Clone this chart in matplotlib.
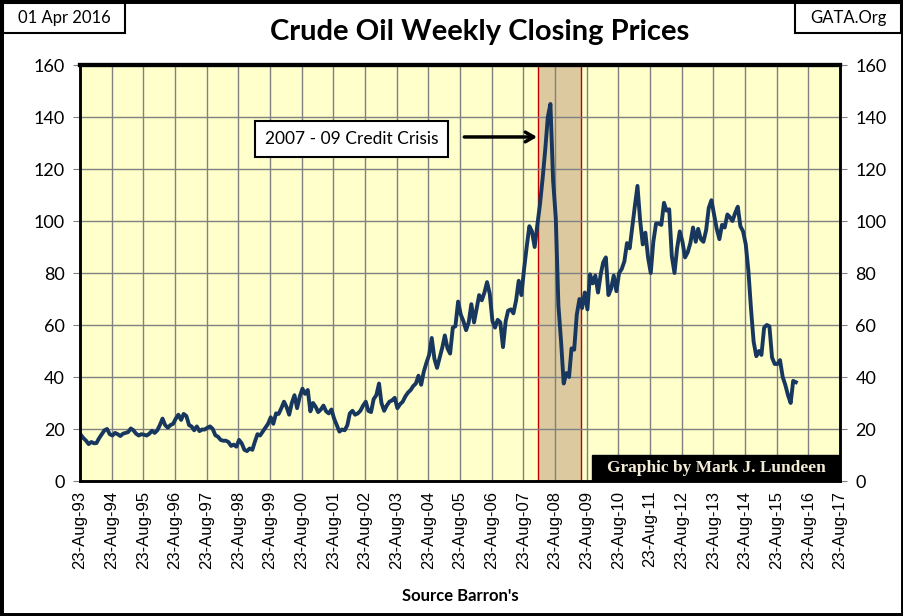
import pandas as pd
import matplotlib
matplotlib.use('Agg')
from matplotlib import pyplot as plt
import matplotlib.dates as mdates
from matplotlib.patches import Rectangle

# monthly readings of the weekly close, Aug 1993 .. Apr 2016
prices = [
    18.0, 17.8, 16.5, 15.5, 14.2,
    15.0, 14.5, 14.6, 16.5, 18.0, 19.5, 20.0, 18.0, 17.5, 18.5, 18.0, 17.3,
    18.2, 18.5, 18.8, 20.2, 19.5, 18.2, 17.5, 18.0, 17.8, 17.5, 18.2, 19.3,
    18.5, 19.5, 21.5, 24.0, 21.5, 20.5, 21.5, 22.0, 24.0, 25.5, 23.5, 25.8,
    25.0, 21.5, 21.0, 19.5, 21.0, 19.2, 19.8, 19.8, 20.5, 21.0, 20.0, 17.6,
    17.0, 15.8, 15.5, 15.5, 15.0, 13.5, 14.0, 13.2, 15.8, 14.5, 12.0, 11.5,
    12.5, 12.0, 15.0, 18.0, 17.5, 19.0, 20.5, 22.0, 24.5, 22.0, 26.0, 25.8,
    28.0, 30.5, 28.5, 25.5, 30.0, 33.0, 28.0, 32.5, 35.5, 33.5, 35.0, 26.8,
    30.0, 28.5, 26.5, 27.5, 29.0, 26.8, 26.0, 27.5, 24.0, 21.5, 19.0, 19.8,
    19.5, 21.5, 26.0, 27.0, 25.5, 26.0, 27.0, 29.0, 30.5, 27.0, 26.5, 31.5,
    33.0, 37.5, 30.0, 27.0, 29.0, 30.5, 31.0, 32.0, 28.0, 29.5, 30.5, 32.5,
    34.0, 35.0, 36.5, 37.5, 40.5, 37.0, 42.0, 45.5, 48.5, 55.0, 47.0, 43.5,
    47.5, 51.5, 56.0, 51.0, 49.0, 59.0, 59.5, 69.0, 64.0, 61.5, 58.0, 61.0,
    68.0, 61.0, 66.0, 71.5, 69.5, 72.5, 76.5, 72.0, 61.5, 59.0, 62.0, 61.0,
    51.5, 61.5, 65.5, 66.0, 64.5, 69.5, 77.0, 71.5, 81.5, 90.0, 98.0, 96.0,
    90.0, 98.5, 106.0, 116.0, 127.0, 140.0, 145.0, 115.5, 101.0, 67.5, 53.5, 37.5,
    41.5, 40.0, 51.0, 50.5, 64.0, 70.0, 66.5, 72.5, 66.0, 79.5, 76.0, 79.0,
    72.5, 79.5, 84.0, 86.0, 71.5, 74.0, 79.0, 73.0, 80.0, 81.5, 84.5, 91.5,
    89.5, 98.0, 105.5, 113.5, 100.5, 91.0, 95.5, 86.0, 80.0, 92.0, 99.0, 99.0,
    98.5, 107.0, 104.0, 104.5, 86.5, 80.0, 89.5, 96.0, 92.0, 86.0, 88.0, 91.5,
    97.5, 92.0, 97.0, 93.0, 92.0, 96.5, 105.0, 108.0, 102.5, 97.0, 93.0, 98.5,
    97.5, 102.5, 101.5, 100.0, 103.0, 105.5, 98.0, 96.0, 91.0, 81.0, 66.0, 53.5,
    48.0, 50.0, 48.5, 59.0, 60.0, 59.5, 47.5, 45.0, 45.0, 46.5, 40.0, 37.0,
    33.0, 30.0, 38.5, 38.0,
]
dates = pd.date_range(end='2016-04-01', periods=len(prices), freq='MS')

tick_dates = pd.date_range('1993-08-23', '2017-08-23', freq=pd.DateOffset(years=1))
y_ticks = [0, 20, 40, 60, 80, 100, 120, 140, 160]

crisis_start = pd.Timestamp('2008-02-05')
crisis_end = pd.Timestamp('2009-06-20')

title = "Crude Oil Weekly Closing Prices"
date_label = "01 Apr 2016"
site_label = "GATA.Org"
source_label = "Source Barron's"
crisis_label = "2007 - 09 Credit Crisis"
credit_label = "Graphic by Mark J. Lundeen"

line_color = '#17375E'
bg_color = '#FFFFCC'


def main():
    fig = plt.figure(figsize=(9.04, 6.16), dpi=100)
    fig.patch.set_facecolor('white')
    ax = fig.add_axes([80 / 904, 135 / 616, 760 / 904, 416 / 616])
    ax.set_facecolor(bg_color)

    ax.axvspan(crisis_start, crisis_end, facecolor='#DCC9A0', edgecolor='#C00000',
               linewidth=1, zorder=0.3)
    ax.plot(dates, prices, color=line_color, linewidth=2.8, zorder=3)

    ax.set_xlim(tick_dates[0], tick_dates[-1])
    ax.set_ylim(0, 160)
    ax.set_xticks(tick_dates)
    ax.xaxis.set_major_formatter(mdates.DateFormatter('%d-%b-%y'))
    ax.set_yticks(y_ticks)
    ax.set_axisbelow(True)
    ax.grid(True, color='#808080', linewidth=1)

    for lab in ax.get_xticklabels():
        lab.set_rotation(90)
        lab.set_fontfamily('Liberation Sans')
        lab.set_fontsize(12)
    ax.tick_params(axis='x', length=0, pad=7)
    ax.tick_params(axis='y', direction='out', length=5, color='#808080',
                   labelsize=13, pad=6)
    for lab in ax.get_yticklabels():
        lab.set_fontfamily('Lato')

    ax2 = ax.twinx()
    ax2.set_ylim(0, 160)
    ax2.set_yticks(y_ticks)
    ax2.tick_params(axis='y', direction='out', length=5, color='#808080',
                    labelsize=13, pad=6)
    for lab in ax2.get_yticklabels():
        lab.set_fontfamily('Lato')

    for a in (ax, ax2):
        for side in ['left', 'right', 'bottom']:
            a.spines[side].set_color('black')
            a.spines[side].set_linewidth(1.8)
        a.spines['top'].set_color('black')
        a.spines['top'].set_linewidth(3)

    # annotation for the crisis
    ax.text(0.357, 0.822, crisis_label, transform=ax.transAxes, ha='center', va='center',
            fontsize=12.5, family='Lato', zorder=5,
            bbox=dict(boxstyle='square,pad=0.55', facecolor='white', edgecolor='black',
                      linewidth=1.5))
    ax.annotate('', xy=(0.605, 0.827), xytext=(0.502, 0.827), xycoords='axes fraction',
                arrowprops=dict(arrowstyle='->,head_length=0.6,head_width=0.35',
                                color='black', linewidth=2.5), zorder=5)

    # credit box inside the plot
    ax.add_patch(Rectangle((0.674, 0.0), 0.326, 0.0625, transform=ax.transAxes,
                           facecolor='black', edgecolor='black', zorder=6))
    ax.text(0.837, 0.031, credit_label, transform=ax.transAxes, ha='center', va='center',
            color='#F3EDD8', fontsize=12.5, fontweight='bold', family='Liberation Serif',
            zorder=7)

    # header
    fig.text(480 / 904, 1 - 32 / 616, title, ha='center', va='center', fontsize=21,
             fontweight='bold', family='Lato')
    fig.patches.append(Rectangle((3 / 904, 1 - 33 / 616), 122 / 904, 30 / 616,
                                 transform=fig.transFigure, facecolor='white',
                                 edgecolor='black', linewidth=1.5))
    fig.text(64 / 904, 1 - 18 / 616, date_label, ha='center', va='center', fontsize=12,
             family='Lato')
    fig.patches.append(Rectangle((795 / 904, 1 - 33 / 616), 106 / 904, 30 / 616,
                                 transform=fig.transFigure, facecolor='white',
                                 edgecolor='black', linewidth=1.5))
    fig.text(848 / 904, 1 - 18 / 616, site_label, ha='center', va='center', fontsize=12,
             family='Lato')

    fig.text(460 / 904, 1 - 596 / 616, source_label, ha='center', va='center', fontsize=12,
             fontweight='bold', family='Lato')

    # outer frame
    fig.patches.append(Rectangle((0, 0), 1, 1, transform=fig.transFigure, fill=False,
                                 edgecolor='black', linewidth=5))

    plt.savefig('out.png', dpi=100)


if __name__ == '__main__':
    main()
